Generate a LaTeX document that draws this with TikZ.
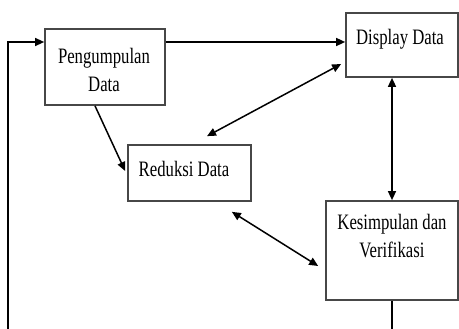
\documentclass[tikz,border=0pt]{standalone}
\usepackage{fontspec}
\newfontfamily\kotakfont[FakeStretch=0.76]{Liberation Serif}
\usetikzlibrary{positioning, arrows.meta}
\tikzset{
  kotak/.style={draw=black!72, line width=1.7pt, rectangle, inner sep=0pt},
  teks/.style={font=\kotakfont\fontsize{22}{28}\selectfont, align=center, inner sep=0pt, anchor=base},
  panah/.style={-{Triangle[length=9pt,width=8pt]}, line width=1.5pt},
  dpanah/.style={{Triangle[length=9pt,width=8pt]}-{Triangle[length=9pt,width=8pt]}, line width=1.5pt},
}

\begin{document}
\begin{tikzpicture}[x=1pt, y=-1pt]
\useasboundingbox (0,0) rectangle (459,329);
% Boxes
\node[kotak, minimum width=120pt, minimum height=76pt] (peng) at (105,67) {};
\node[kotak, minimum width=112pt, minimum height=64pt] (disp) at (402,45) {};
\node[kotak, minimum width=123pt, minimum height=56pt] (red) at (189.5,173) {};
\node[kotak, minimum width=132pt, minimum height=99pt] (kes) at (392,250.5) {};
% Texts
\node[teks] (pengteks) at (104,92) {Pengumpulan\\Data};
\node[teks] (dispteks) at (400,45) {Display Data};
\node[teks] (redteks) at (184,177) {Reduksi Data};
\node[teks] (kesteks) at (392,258) {Kesimpulan dan\\Verifikasi};
% Loop
\coordinate (kiribawah) at (8,329);
\coordinate (kiriatas) at (8,42);
\coordinate (kesbawah) at (392,329);
\draw[line width=1.3pt] (kes.south) -- (kesbawah);
\draw[panah, line width=1.3pt] (kiribawah) -- (kiriatas) -- (peng.west |- kiriatas);
% Arrows
\draw[panah] (peng.east |- kiriatas) -- (disp.west |- kiriatas);
\draw[panah] ([xshift=-10pt]peng.south) -- ([shift={(-2,-2)}]red.west);
\draw[dpanah] ([shift={(-4,19)}]disp.west) -- ([shift={(17.5,-8)}]red.north);
\draw[dpanah] (disp.south -| kes.north) -- (kes.north);
\draw[dpanah] ([shift={(-20,10)}]red.south east) -- ([shift={(-7,15.5)}]kes.west);
\end{tikzpicture}
\end{document}
